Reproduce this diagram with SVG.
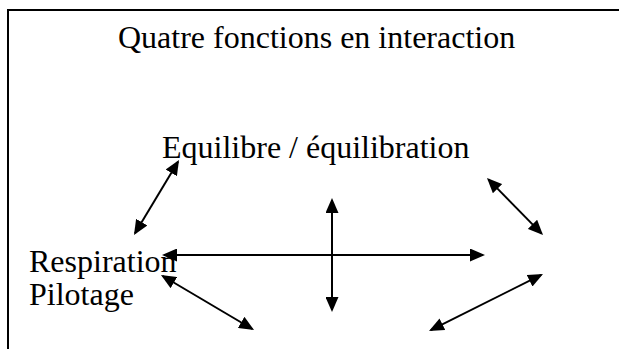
<svg xmlns="http://www.w3.org/2000/svg" width="619" height="349" viewBox="0 0 619 349">
  <style>
    .lbl { font-family: "Liberation Serif", "Times New Roman", serif; font-size: 32px; fill: #000; }
    .con { stroke: #000; stroke-width: 2; fill: none; marker-start: url(#ah); marker-end: url(#ah); }
  </style>
  <defs>
    <marker id="ah" markerUnits="userSpaceOnUse" markerWidth="15" markerHeight="13" refX="13" refY="6.5" orient="auto-start-reverse">
      <path d="M0,0 L15,6.5 L0,13 z" fill="#000"/>
    </marker>
  </defs>
  <rect width="619" height="349" fill="#fff"/>
  <rect id="frame" x="8" y="10" width="700" height="500" fill="none" stroke="#000" stroke-width="2"/>
  <g id="title">
    <text class="lbl" x="118" y="48">Quatre fonctions en interaction</text>
  </g>
  <g id="equilibre">
    <text class="lbl" x="162" y="158">Equilibre / équilibration</text>
  </g>
  <g id="respiration">
    <text class="lbl" x="29" y="272">Respiration</text>
    <text class="lbl" x="29" y="305">Pilotage</text>
  </g>
  <g id="connectors">
    <line class="con" x1="178" y1="161.7" x2="135" y2="233.3"/>
    <line class="con" x1="164" y1="255" x2="483" y2="255"/>
    <line class="con" x1="332" y1="200" x2="332" y2="310"/>
    <line class="con" x1="162.7" y1="276" x2="252.3" y2="329"/>
    <line class="con" x1="488.4" y1="179.4" x2="541.6" y2="233.6"/>
    <line class="con" x1="541.2" y1="274.9" x2="430.8" y2="330.1"/>
  </g>
</svg>
